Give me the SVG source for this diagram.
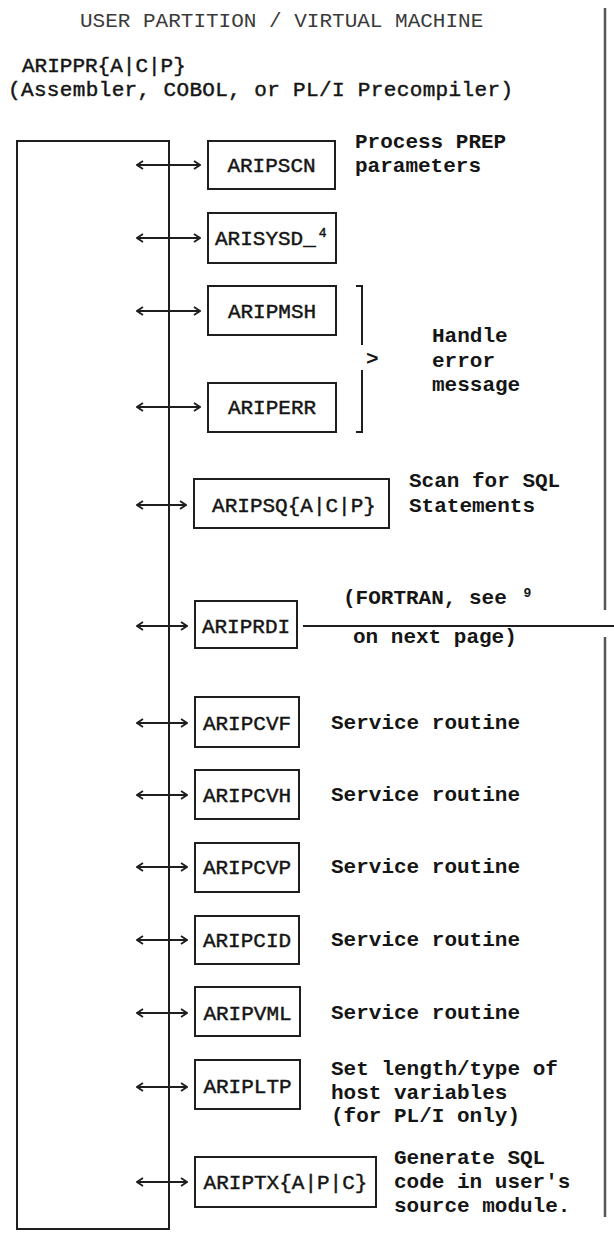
<svg xmlns="http://www.w3.org/2000/svg" width="614" height="1236" viewBox="0 0 614 1236">
<style>
  .t { font-family: "Liberation Mono", "DejaVu Sans Mono", monospace; font-size: 21px; fill: #151515; }
  .d { font-weight: bold; }
  .m { stroke: #151515; stroke-width: 0.45; }
  .h { fill: #3a3a3a; }
  .lbl { text-anchor: middle; }
  .sup { font-size: 13px; }
  .box { fill: #ffffff; stroke: #1e1e1e; stroke-width: 2; }
  .ln { fill: none; stroke: #1e1e1e; stroke-width: 2; }
  .part { fill: none; stroke: #555555; stroke-width: 2.5; }
  .arr { fill: none; stroke: #1e1e1e; stroke-width: 1.8; marker-start: url(#ah); marker-end: url(#ah); }
</style>
<defs>
  <marker id="ah" viewBox="0 0 10 10" refX="9" refY="5" markerWidth="10" markerHeight="10" markerUnits="userSpaceOnUse" orient="auto-start-reverse">
    <path d="M3,1 L9,5 L3,9" fill="none" stroke="#1e1e1e" stroke-width="1.8"/>
  </marker>
</defs>
<rect width="614" height="1236" fill="#ffffff"/>

<g id="partition">
  <text class="t h" x="80" y="27">USER PARTITION / VIRTUAL MACHINE</text>
  <path class="part" d="M605,8 V610 M605,637 V1217"/>
</g>

<g id="ARIPPR">
  <text class="t m" x="22" y="72">ARIPPR{A|C|P}</text>
  <text class="t m" x="8" y="96" textLength="505" lengthAdjust="spacing">(Assembler, COBOL, or PL/I Precompiler)</text>
  <rect class="ln" x="17" y="141" width="152" height="1088"/>
</g>

<g id="connectors">
  <line class="arr" x1="137" y1="165" x2="200" y2="165"/>
  <line class="arr" x1="137" y1="238" x2="200" y2="238"/>
  <line class="arr" x1="137" y1="311" x2="200" y2="311"/>
  <line class="arr" x1="137" y1="407" x2="200" y2="407"/>
  <line class="arr" x1="137" y1="505" x2="186" y2="505"/>
  <line class="arr" x1="137" y1="626" x2="187" y2="626"/>
  <line class="arr" x1="137" y1="723" x2="187" y2="723"/>
  <line class="arr" x1="137" y1="795" x2="187" y2="795"/>
  <line class="arr" x1="137" y1="867" x2="187" y2="867"/>
  <line class="arr" x1="137" y1="940" x2="187" y2="940"/>
  <line class="arr" x1="137" y1="1013" x2="187" y2="1013"/>
  <line class="arr" x1="137" y1="1087" x2="187" y2="1087"/>
  <line class="arr" x1="137" y1="1182" x2="187" y2="1182"/>
  <line class="ln" x1="303" y1="626" x2="614" y2="626"/>
  <path class="ln" d="M356,286 H362 V345 M362,370 V432 H356"/>
</g>

<g id="ARIPSCN">
  <rect class="box" x="208" y="141" width="127" height="48"/>
  <text class="t m lbl" x="271.5" y="172">ARIPSCN</text>
  <text class="t d" x="355" y="148">Process PREP</text>
  <text class="t d" x="355" y="172">parameters</text>
</g>

<g id="ARISYSD">
  <rect class="box" x="208" y="213" width="128" height="50"/>
  <text class="t m" x="215" y="245">ARISYSD_<tspan class="sup" dx="3" dy="-8">4</tspan></text>
</g>

<g id="ARIPMSH">
  <rect class="box" x="208" y="286" width="128" height="49"/>
  <text class="t m lbl" x="272" y="318">ARIPMSH</text>
</g>

<g id="ARIPERR">
  <rect class="box" x="208" y="383" width="128" height="49"/>
  <text class="t m lbl" x="272" y="414">ARIPERR</text>
</g>

<g id="handle-error">
  <text class="t d" x="366" y="365">&gt;</text>
  <text class="t d" x="432" y="342">Handle</text>
  <text class="t d" x="432" y="367">error</text>
  <text class="t d" x="432" y="391">message</text>
</g>

<g id="ARIPSQ">
  <rect class="box" x="194" y="479" width="195" height="49"/>
  <text class="t m lbl" x="294" y="512">ARIPSQ{A|C|P}</text>
  <text class="t d" x="409" y="487">Scan for SQL</text>
  <text class="t d" x="409" y="512">Statements</text>
</g>

<g id="ARIPRDI">
  <rect class="box" x="195" y="601" width="102" height="47"/>
  <text class="t m lbl" x="246" y="633">ARIPRDI</text>
  <text class="t d" x="343" y="604">(FORTRAN, see <tspan class="sup" dx="4" dy="-7">9</tspan></text>
  <text class="t d" x="353" y="643">on next page)</text>
</g>

<g id="ARIPCVF">
  <rect class="box" x="195" y="697" width="104" height="50"/>
  <text class="t m lbl" x="247" y="730">ARIPCVF</text>
  <text class="t d" x="331" y="729">Service routine</text>
</g>

<g id="ARIPCVH">
  <rect class="box" x="195" y="770" width="104" height="49"/>
  <text class="t m lbl" x="247" y="802">ARIPCVH</text>
  <text class="t d" x="331" y="801">Service routine</text>
</g>

<g id="ARIPCVP">
  <rect class="box" x="195" y="843" width="104" height="49"/>
  <text class="t m lbl" x="247" y="874">ARIPCVP</text>
  <text class="t d" x="331" y="873">Service routine</text>
</g>

<g id="ARIPCID">
  <rect class="box" x="195" y="916" width="104" height="48"/>
  <text class="t m lbl" x="247" y="947">ARIPCID</text>
  <text class="t d" x="331" y="946">Service routine</text>
</g>

<g id="ARIPVML">
  <rect class="box" x="195" y="987" width="105" height="49"/>
  <text class="t m lbl" x="247.5" y="1020">ARIPVML</text>
  <text class="t d" x="331" y="1019">Service routine</text>
</g>

<g id="ARIPLTP">
  <rect class="box" x="195" y="1060" width="105" height="49"/>
  <text class="t m lbl" x="247.5" y="1093">ARIPLTP</text>
  <text class="t d" x="331" y="1075">Set length/type of</text>
  <text class="t d" x="331" y="1099">host variables</text>
  <text class="t d" x="331" y="1122">(for PL/I only)</text>
</g>

<g id="ARIPTX">
  <rect class="box" x="195" y="1157" width="181" height="50"/>
  <text class="t m lbl" x="285.5" y="1189">ARIPTX{A|P|C}</text>
  <text class="t d" x="394" y="1164">Generate SQL</text>
  <text class="t d" x="394" y="1188">code in user's</text>
  <text class="t d" x="394" y="1212">source module.</text>
</g>
</svg>
